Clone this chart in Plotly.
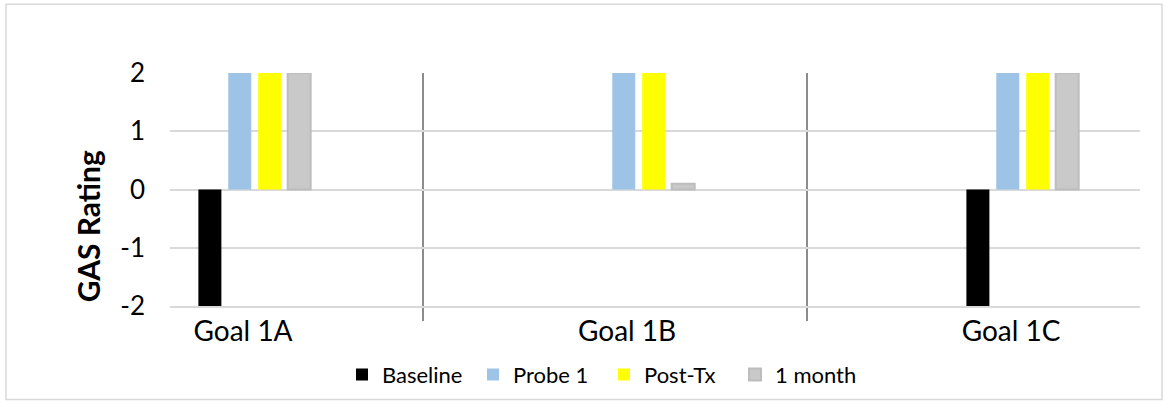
import plotly.graph_objects as go

categories = ["Goal 1A", "Goal 1B", "Goal 1C"]
series_names = ["Baseline", "Probe 1", "Post-Tx", "1 month"]
baseline = [-2, 0, -2]
probe1 = [2, 2, 2]
post_tx = [2, 2, 2]
one_month = [2, 0.1, 2]
y_ticks = [-2, -1, 0, 1, 2]
y_tick_labels = ["-2", "-1", "0", "1", "2"]

series_values = [baseline, probe1, post_tx, one_month]
colors = ["#000000", "#9DC3E6", "#FFFF00", "#C9C9C9"]
line_colors = ["#000000", "#9DC3E6", "#FFFF00", "#BDBDBD"]
line_widths = [0, 0, 0, 2]
offsets = [-0.0851, -0.0073, 0.0706, 0.1474]
bar_w = 0.0599

W, H = 1166, 408
L, R, T, B = 170, 26, 73, 98
pw, ph = W - L - R, H - T - B

FONT = "Lato"

fig = go.Figure()
for name, vals, c, lc, lw, off in zip(series_names, series_values, colors, line_colors, line_widths, offsets):
    fig.add_trace(go.Bar(
        x=categories, y=vals, name=name,
        marker=dict(color=c, line=dict(color=lc, width=lw)),
        offset=off, width=bar_w,
    ))

def px_x(p):
    return (p - L) / pw

def px_y(p):
    return (H - B - p) / ph

fig.update_layout(
    width=W, height=H,
    margin=dict(l=L, r=R, t=T, b=B),
    barmode="overlay",
    plot_bgcolor="white", paper_bgcolor="white",
    font=dict(family=FONT, color="#000000"),
    xaxis=dict(
        range=[-0.159, 2.367],
        tickson="boundaries",
        showgrid=True, gridcolor="#8C8C8C", gridwidth=1.5,
        ticks="outside", ticklen=13, tickcolor="#8C8C8C", tickwidth=1.5,
        showline=True, linecolor="#D9D9D9", linewidth=1.5,
        tickfont=dict(size=28, family=FONT, color="#000000"),
        ticklabelshift=12,
        zeroline=False,
    ),
    yaxis=dict(
        range=[-2, 2],
        tickvals=y_ticks, ticktext=y_tick_labels,
        showgrid=True, gridcolor="#D9D9D9", gridwidth=1.5,
        zeroline=True, zerolinecolor="#D9D9D9", zerolinewidth=1.5,
        showline=False,
        tickfont=dict(size=26, family=FONT, color="#000000"),
        ticklabelstandoff=24,
    ),
    showlegend=True,
    legend=dict(
        orientation="h",
        x=px_x(604), xanchor="center",
        y=px_y(380), yanchor="middle",
        font=dict(size=22, family=FONT, color="#000000"),
        entrywidth=86, entrywidthmode="pixels",
        itemwidth=30,
        bgcolor="rgba(0,0,0,0)",
    ),
    annotations=[dict(
        text="<b>GAS Rating</b>", textangle=-90,
        xref="paper", yref="paper",
        x=px_x(88), y=px_y(229), xanchor="center", yanchor="middle",
        showarrow=False,
        font=dict(size=30, family=FONT, color="#000000"),
    )],
    shapes=[dict(
        type="rect", xref="paper", yref="paper",
        x0=px_x(6), x1=px_x(1162), y0=px_y(405), y1=px_y(3),
        line=dict(color="#D9D9D9", width=1.5), fillcolor="rgba(0,0,0,0)",
        layer="below",
    )],
)

fig.write_html("out.html")
